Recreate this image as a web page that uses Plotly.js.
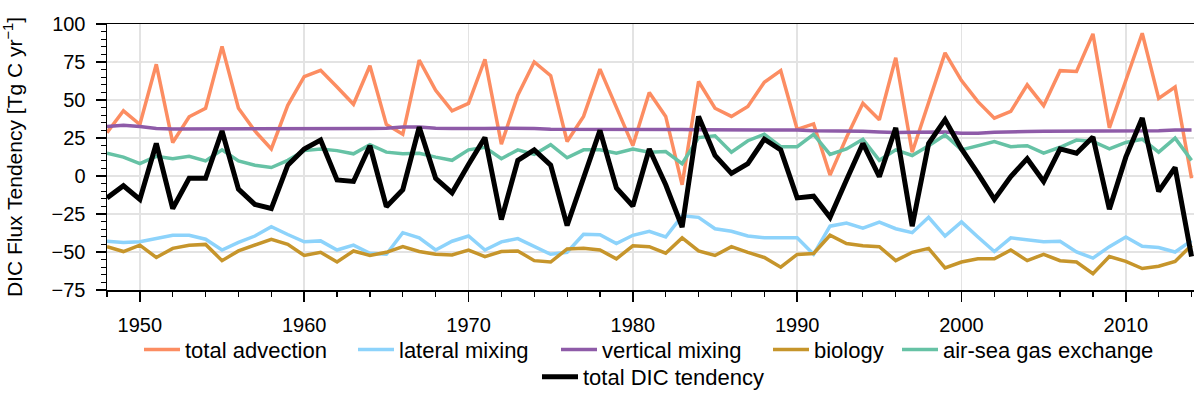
<!DOCTYPE html>
<html>
<head>
<meta charset="utf-8">
<script src="https://cdn.plot.ly/plotly-3.0.1.min.js"></script>
<style>
html,body{margin:0;padding:0;background:#fff;}
#chart{width:1194px;height:398px;}
</style>
</head>
<body>
<div id="chart"></div>
<script>
const years = [];
for (let y = 1948; y <= 2014; y++) years.push(y);

const totalAdvection = [28.5,42.9,33.9,73.5,22,39,44.6,85.3,44.6,29.6,17.8,46.5,65.3,69.5,58.6,47.2,72.5,33.9,27.4,76.3,56.4,42.9,47.8,76.8,21,53.2,75,66,22.7,39.2,70.3,45.7,20,54.9,39.2,-5.8,62.2,44.6,39.2,45.7,61.7,69.3,30.7,34.3,0.6,25.3,47.8,37,77.8,15.6,47.8,81,62.8,48.9,38,42.5,60,46.3,69.3,68.8,93.5,31.7,62.8,93.9,51,58.5,-1.5];
const lateralMixing = [-42.9,-43.7,-43.3,-41.2,-39,-39,-41.6,-48.7,-43.7,-39.5,-33.3,-38.5,-43.3,-42.7,-48.7,-45.5,-50.8,-51.5,-37.3,-40.7,-48.7,-42.9,-39.5,-48.7,-43.3,-41.2,-46.5,-51.5,-50.2,-38.4,-38.6,-44.4,-39,-36.4,-40.1,-26.2,-27.2,-34.7,-36.4,-39.5,-40.7,-40.7,-40.7,-51.5,-33,-30.9,-34.3,-30.4,-34.7,-37.3,-27.2,-39.5,-30.2,-40.1,-49.7,-40.7,-41.8,-43.3,-43,-50,-54,-46.5,-40.1,-46.2,-47,-50,-42.5];
const verticalMixing = [32.6,33.4,32.6,31.3,31,31,31,31,31,31,31,31,31.2,31.2,31,30.8,31.2,31.4,32.2,32.2,31.4,31.2,31,31.2,31.4,31.4,31.2,30.8,30.8,30.8,30.8,30.8,30.8,31,30.8,30.6,30.4,30.4,30,30,30.2,30.2,30.2,29.8,29.8,29.6,29.4,29,28.6,28.8,29,29,28.2,28.2,28.8,29.2,29.2,29.4,29.4,29.6,29.6,29.6,29.6,29.6,29.8,30.2,30.2];
const biology = [-46.5,-49.7,-45.5,-53.6,-47.6,-45.5,-45,-55.7,-49.3,-45.5,-41.6,-45,-52.3,-50.2,-56.6,-49.3,-52.3,-50.2,-46.5,-49.7,-51.5,-51.9,-48.7,-53,-49.7,-49.3,-55.7,-56.6,-48,-47.6,-48.7,-54.5,-45.9,-46.5,-50.8,-40.7,-49.3,-52.3,-46.5,-50.2,-53.6,-60,-51.6,-51,-39,-44.4,-45.9,-46.5,-55.7,-50.2,-47.6,-60.5,-56.6,-54.5,-54.5,-48.7,-55.7,-51.5,-55.7,-56.6,-64.3,-53,-56.2,-60.9,-59.4,-56.2,-45.5];
const airSeaGasExchange = [15,12.4,8.1,12.9,11.4,12.9,9.9,17.2,9.9,7.1,5.6,10.3,16.7,17.8,16.7,14.6,20.6,15.7,14.6,15,12.4,10.3,17.2,18.9,11.4,17.2,14.2,20.6,12,17.2,17.2,15,17.8,15.7,16.1,8.1,25.3,26.4,15.7,23.2,27.4,19.3,19.3,27.4,14.2,17.8,24.2,10.3,17.2,13.5,19.9,27,17.2,19.9,22.7,19.3,19.9,15,18.9,23.6,22.7,17.8,22.1,24.2,15.7,24.9,10.3];
const totalDIC = [-14.4,-6.4,-15.4,21.4,-21.4,-1.5,-1.5,29.6,-8.6,-18.7,-21.4,7.1,17.8,23.6,-2.6,-3.6,19.9,-20.2,-9,32.2,-1.5,-11.1,7.5,25.3,-28.7,10.3,17.2,7.1,-32.6,-0.4,30,-7.9,-19.7,17.8,-5.8,-33.7,39.2,13.5,1.7,8.1,24.2,17.2,-14.4,-13.3,-27.2,-2.6,21.4,-0.4,31.7,-33,21.4,37.1,17.8,1.7,-15.4,-0.4,11.4,-3.6,17.8,15,25.7,-21.9,12.4,38.2,-10.1,5.6,-53];

const seriesNames = ["total advection","lateral mixing","vertical mixing","biology","air-sea gas exchange","total DIC tendency"];
const seriesColors = ["#fc8d62","#8dd3fb","#8e5ba8","#c6952b","#66c2a5","#000000"];
const seriesData = [totalAdvection, lateralMixing, verticalMixing, biology, airSeaGasExchange, totalDIC];

const xTickVals = [1950,1960,1970,1980,1990,2000,2010];
const yTickVals = [-75,-50,-25,0,25,50,75,100];

const legendIds = ['legend','legend2','legend3','legend4','legend5','legend6'];
const traces = seriesData.map((d, i) => ({
  x: years, y: d, type: 'scatter', mode: 'lines',
  name: seriesNames[i],
  line: {color: seriesColors[i], width: i === 5 ? 5 : 3.5},
  legend: legendIds[i]
}));

const font = "Liberation Sans, Arial, Helvetica, sans-serif";
const plotL = 107, plotW = 1087, plotT = 24, plotH = 272;
// legend anchor positions in pixels (left edge of each legend item, row centre)
const legendPx = [[139, 357], [353, 357], [556, 357], [768, 357], [897, 357], [537, 385]];

const layout = {
  width: 1194, height: 398,
  margin: {l: plotL, r: 0, t: plotT, b: 398 - plotT - plotH},
  paper_bgcolor: '#fff', plot_bgcolor: '#fff',
  font: {family: font, size: 20, color: '#000'},
  showlegend: true,
  xaxis: {
    range: [1948, 2014.15],
    tickvals: xTickVals,
    ticks: 'outside', ticklen: 10, tickwidth: 1.5, tickcolor: '#000',
    ticklabelstandoff: 6,
    showline: true, linecolor: '#000', linewidth: 1.5, mirror: true,
    showgrid: true, gridcolor: '#e3e3e3', gridwidth: 1.5,
    zeroline: false,
    tickfont: {size: 20},
    minor: {dtick: 2, tick0: 1948, ticks: 'outside', ticklen: 5, tickwidth: 1.2, tickcolor: '#000', showgrid: false}
  },
  yaxis: {
    range: [-75, 100],
    tickvals: yTickVals,
    ticks: 'outside', ticklen: 10, tickwidth: 1.5, tickcolor: '#000',
    ticklabelstandoff: 6,
    showline: true, linecolor: '#000', linewidth: 1.5, mirror: false,
    showgrid: true, gridcolor: '#e3e3e3', gridwidth: 1.5,
    zeroline: false,
    tickfont: {size: 20},
    automargin: false,
    title: {text: 'DIC Flux Tendency [Tg C yr<sup>−1</sup>]', font: {size: 21}, standoff: 25},
    minor: {dtick: 5, tick0: 0, ticks: 'outside', ticklen: 5, tickwidth: 1.2, tickcolor: '#000', showgrid: false}
  }
};
legendIds.forEach((id, i) => {
  layout[id] = {
    orientation: 'h',
    x: (legendPx[i][0] - plotL) / plotW, xanchor: 'left',
    y: (plotT + plotH - legendPx[i][1]) / plotH, yanchor: 'middle',
    font: {size: 22}, bgcolor: 'rgba(0,0,0,0)', borderwidth: 0,
    itemwidth: 36
  };
});

Plotly.newPlot('chart', traces, layout, {displayModeBar: false, staticPlot: true});
</script>
</body>
</html>
